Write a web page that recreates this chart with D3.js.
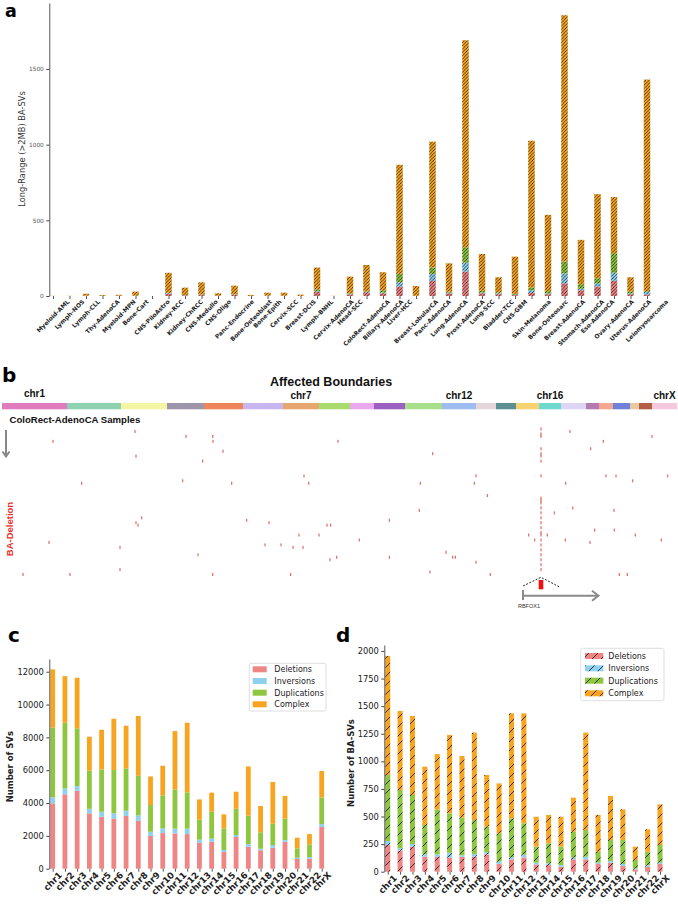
<!DOCTYPE html>
<html><head><meta charset="utf-8">
<script src="https://cdn.jsdelivr.net/npm/d3@7"></script>
<style>body{margin:0;background:#fff;}svg{display:block;}</style>
</head><body>
<svg id="fig" width="678" height="905"></svg>
<script>
// ---------------- DATA ----------------
const svTypes = ["Deletions", "Inversions", "Duplications", "Complex"];
const typeColors = ["#ef8585", "#8fd0ef", "#8ec63f", "#f7a520"];

// panel a
const cancerTypes = ["Myeloid-AML","Lymph-NOS","Lymph-CLL","Thy-AdenoCA","Myeloid-MPN","Bone-Cart","CNS-PiloAstro","Kidney-RCC","Kidney-ChRCC","CNS-Medullo","CNS-Oligo","Panc-Endocrine","Bone-Osteoblast","Bone-Epith","Cervix-SCC","Breast-DCIS","Lymph-BNHL","Cervix-AdenoCA","Head-SCC","ColoRect-AdenoCA","Biliary-AdenoCA","Liver-HCC","Breast-LobularCA","Panc-AdenoCA","Lung-AdenoCA","Prost-AdenoCA","Lung-SCC","Bladder-TCC","CNS-GBM","Skin-Melanoma","Bone-Osteosarc","Breast-AdenoCA","Stomach-AdenoCA","Eso-AdenoCA","Ovary-AdenoCA","Uterus-AdenoCA","Leiomyosarcoma"];
const aDeletions    = [0,0,2,1,1,2,0,15,4,6,2,8,1,2,2,1,28,0,10,25,18,62,1,99,18,161,18,12,6,20,12,84,38,62,101,12,10];
const aInversions   = [0,0,0,0,0,0,0,3,1,1,0,1,0,0,0,0,4,0,3,3,5,29,0,46,4,59,4,6,3,18,5,66,10,22,53,5,18];
const aDuplications = [0,0,1,0,1,1,0,3,2,3,1,3,0,1,1,0,12,0,3,4,15,55,1,44,6,102,12,6,5,18,15,77,30,33,129,12,5];
const aComplex      = [1,1,12,5,6,26,0,132,48,80,15,56,6,19,19,8,144,1,112,173,119,721,64,831,188,1368,244,100,246,970,504,1628,293,556,371,95,1397];
const aTicks = [0, 500, 1000, 1500];

// panel b
const chromosomes = ["chr1","chr2","chr3","chr4","chr5","chr6","chr7","chr8","chr9","chr10","chr11","chr12","chr13","chr14","chr15","chr16","chr17","chr18","chr19","chr20","chr21","chr22","chrX"];
const boundaryCounts = [260,216,184,148,156,160,144,124,96,124,148,136,80,80,92,88,100,52,56,68,36,52,100];
const chrColors = ["#e07bc0","#8fd2b2","#f4f6a4","#9d96aa","#ee855a","#c8b6f1","#e6a66f","#a8dc6d","#e9a9ef","#9b60c1","#a9e08c","#9ebcf0","#e6d6d9","#5d8e92","#f7d370","#6fd8cf","#dcd5f4","#b57bb1","#f5a690","#6f81d8","#e8c9a1","#b45f43","#f4c9dd"];
const labelledChrs = ["chr1","chr7","chr12","chr16","chrX"];
const delMarkPos = [532,204,736,843,844,884,536,803,1344,1208,1227,723,919,319,979,1068,559,536,544,1188,1268,1300,1315,188,472,1052,1116,1164,1204,784,1312,1339,84,272,472,843,1155,2272,2600,2405,2355,1723,1896,1889,1673,1941,2255,2416,2456,2523,2663,1669,1549,2209,2283,2448,1429,2107,2131,2181,2253,2352,2371,2449,2533,2637,1549,1776,1803,1813,1896,1712,1953,2469,2501];
const delMarkRow = [1,5,3,3,5,9,11,13,5,19,22,21,22,22,37,38,36,38,39,43,43,39,39,46,48,47,47,48,48,51,53,52,59,59,57,59,59,1,3,5,8,10,19,22,22,27,22,19,19,21,19,33,37,34,32,33,45,43,45,43,45,46,41,41,43,45,52,50,52,52,54,58,59,59,59];
const rbfox1Pos = 2156;
const rbfox1Rows = [0,2,3,8,10,11,13,19,28,29,30,32,34,36,38,40,42,43,45,47,49,51,53,55,57];

// panel c
const cDeletions    = [3980,4530,4750,3370,3170,3045,3210,2920,1990,2170,2150,2110,1580,1640,1015,1930,1340,1120,1280,1640,590,610,2540];
const cInversions   = [365,360,280,280,300,325,320,330,260,290,290,330,190,190,125,120,160,100,160,110,80,100,180];
const cDuplications = [4245,4000,3520,2320,2580,2640,2580,2410,1630,2010,2390,2210,1210,1640,1320,1600,1730,990,1300,1300,570,770,1620];
const cComplex      = [3550,2840,3080,2070,2415,3125,2600,3640,1740,1800,3550,4240,1240,1160,850,1040,3000,1610,2540,1380,650,630,1610];
const cTicks = [0,2000,4000,6000,8000,10000,12000];

// panel d
const dDeletions    = [242,190,227,136,136,127,136,136,157,70,112,130,66,60,45,112,112,70,82,51,21,45,70];
const dInversions   = [36,21,24,21,21,45,12,24,18,21,18,24,16,16,15,15,24,12,15,19,9,12,12];
const dDuplications = [598,529,444,266,408,357,344,308,233,256,353,284,145,181,167,235,242,99,190,217,76,124,160];
const dComplex      = [1079,716,716,529,501,710,556,792,468,453,952,997,271,257,271,309,882,333,399,278,121,203,368];
const dTicks = [0,250,500,750,1000,1250,1500,1750,2000];

// ---------------- DRAWING ----------------
const svg = d3.select('#fig');
const defs = svg.append('defs');
const DV = "'DejaVu Sans', sans-serif";
const LS = "'Liberation Sans', Arial, sans-serif";

function hatch(id, color, size, sw) {
  const p = defs.append('pattern').attr('id', id).attr('patternUnits', 'userSpaceOnUse')
    .attr('width', size).attr('height', size);
  p.append('rect').attr('width', size).attr('height', size).attr('fill', color);
  p.append('path')
    .attr('d', `M0,${size} L${size},0 M${-size/2},${size/2} L${size/2},${-size/2} M${size/2},${size*1.5} L${size*1.5},${size/2}`)
    .attr('stroke', '#111').attr('stroke-width', sw).attr('stroke-linecap', 'square');
}
typeColors.forEach((c, k) => { hatch('ha' + k, c, 3.3, 0.75); hatch('hd' + k, c, 9, 0.8); });

function stackedBars(g, cats, series, x, y, bw, fillFn) {
  const rows = cats.map((c, i) => { const o = { cat: c }; svTypes.forEach((t, k) => o[t] = series[k][i]); return o; });
  const layers = d3.stack().keys(svTypes)(rows);
  layers.forEach((layer, k) => {
    g.append('g').selectAll('rect').data(layer).join('rect')
      .attr('x', d => x(d.data.cat) - bw / 2).attr('width', bw)
      .attr('y', d => y(d[1])).attr('height', d => Math.max(0, y(d[0]) - y(d[1])))
      .attr('fill', fillFn(k));
  });
}

function leftAxis(g, y, ticks, x0, fs, color) {
  const ax = g.append('g').attr('transform', `translate(${x0},0)`)
    .call(d3.axisLeft(y).tickValues(ticks).tickFormat(d3.format('d')).tickSize(3).tickSizeOuter(0).tickPadding(2.5));
  ax.select('.domain').attr('stroke', '#444').attr('stroke-width', 0.9);
  ax.selectAll('.tick line').attr('stroke', '#444');
  ax.selectAll('text').attr('font-family', DV).attr('font-size', fs).attr('fill', color);
}

function bottomTicks(g, x, y0) {
  const ax = g.append('g').attr('transform', `translate(0,${y0})`)
    .call(d3.axisBottom(x).tickSize(3).tickSizeOuter(0).tickFormat(''));
  ax.select('.domain').remove();
  ax.selectAll('.tick line').attr('stroke', '#555');
}

function rotLabels(g, cats, x, y0, fs, family) {
  cats.forEach(c => {
    const t = g.append('text').text(c).attr('font-family', family).attr('font-size', fs)
      .attr('font-weight', 'bold').attr('fill', '#222');
    const L = t.node().getComputedTextLength();
    const w = (L + fs * 0.8) * Math.SQRT1_2;
    t.attr('text-anchor', 'middle').attr('dy', '0.35em')
      .attr('transform', `translate(${x(c)},${y0 + w / 2}) rotate(-45)`);
  });
}

function panelLetter(txt, x, y, fs) {
  svg.append('text').text(txt).attr('x', x).attr('y', y).attr('font-family', "'DejaVu Sans', sans-serif")
    .attr('font-weight', 'bold').attr('font-size', fs).attr('fill', '#000');
}

// ---- panel a ----
{
  const g = svg.append('g');
  const x = d3.scalePoint().domain(cancerTypes).range([53, 647]);
  const y = d3.scaleLinear().domain([0, 1936]).range([296, 3]);
  stackedBars(g, cancerTypes, [aDeletions, aInversions, aDuplications, aComplex], x, y, 6.5, k => `url(#ha${k})`);
  leftAxis(g, y, aTicks, 49.3, 5.8, '#555');
  bottomTicks(g, x, 296);
  rotLabels(g, cancerTypes, x, 299, 6, DV);
  g.append('text').text('Long-Range (>2MB) BA-SVs').attr('font-family', DV).attr('font-size', 8.3)
    .attr('fill', '#333').attr('text-anchor', 'middle')
    .attr('transform', 'translate(24.5,149) rotate(-90)');
  panelLetter('a', 5, 16.5, 17.5);
}

// ---- panel b ----
{
  const g = svg.append('g');
  const total = d3.sum(boundaryCounts);
  const x = d3.scaleLinear().domain([0, total]).range([2, 677]);
  const starts = d3.cumsum([0].concat(boundaryCounts.slice(0, -1)));
  const yRow = d3.scaleLinear().domain([0, 59]).range([429, 574.5]);
  g.selectAll('rect.chr').data(chromosomes).join('rect').attr('class', 'chr')
    .attr('x', (d, i) => x(starts[i])).attr('width', (d, i) => x(starts[i] + boundaryCounts[i]) - x(starts[i]) + 0.3)
    .attr('y', 403).attr('height', 6.3).attr('fill', (d, i) => chrColors[i]);
  labelledChrs.forEach(c => {
    const i = chromosomes.indexOf(c);
    g.append('text').text(c).attr('x', x(starts[i] + boundaryCounts[i] / 2)).attr('y', c === 'chr1' ? 396.5 : 399)
      .attr('text-anchor', 'middle').attr('font-family', LS).attr('font-weight', 'bold').attr('font-size', 10).attr('fill', '#111');
  });
  g.append('text').text('Affected Boundaries').attr('x', 331).attr('y', 386).attr('text-anchor', 'middle')
    .attr('font-family', LS).attr('font-weight', 'bold').attr('font-size', 12.5).attr('fill', '#111');
  g.append('text').text('ColoRect-AdenoCA Samples').attr('x', 9.5).attr('y', 423)
    .attr('font-family', LS).attr('font-weight', 'bold').attr('font-size', 9.6).attr('fill', '#111');
  // down arrow
  g.append('path').attr('d', 'M6,430 L6,456').attr('stroke', '#888').attr('stroke-width', 2);
  g.append('path').attr('d', 'M2.5,451.5 L6,456.5 L9.5,451.5').attr('stroke', '#888').attr('stroke-width', 2).attr('fill', 'none');
  g.append('text').text('BA-Deletion').attr('font-family', LS).attr('font-weight', 'bold').attr('font-size', 9.5)
    .attr('fill', '#e8302a').attr('text-anchor', 'middle').attr('transform', 'translate(13,529) rotate(-90)');
  // deletion marks
  g.selectAll('rect.mk').data(delMarkPos).join('rect').attr('class', 'mk')
    .attr('x', d => x(d) - 0.45).attr('y', (d, i) => yRow(delMarkRow[i]) - 1.5).attr('width', 0.9).attr('height', 3)
    .attr('fill', '#cf3a33');
  g.selectAll('rect.mk16').data(rbfox1Rows).join('rect').attr('class', 'mk16')
    .attr('x', x(rbfox1Pos) - 0.45).attr('y', d => yRow(d) - 1.5).attr('width', 0.9).attr('height', 3)
    .attr('fill', '#cf3a33');
  // RBFOX1 gene model
  const gx = x(rbfox1Pos);
  g.append('path').attr('d', `M${gx - 18},586 L${gx},577.3 L${gx + 18},586.7`).attr('fill', 'none')
    .attr('stroke', '#111').attr('stroke-width', 0.9).attr('stroke-dasharray', '2,1.5');
  g.append('rect').attr('x', gx - 2.3).attr('y', 580).attr('width', 4.6).attr('height', 9.3).attr('fill', '#ee1111');
  g.append('path').attr('d', `M${gx - 18},590 L${gx - 18},600 M${gx - 18},595.7 L${gx + 57},595.7`)
    .attr('stroke', '#8a8a8a').attr('stroke-width', 2).attr('fill', 'none');
  g.append('path').attr('d', `M${gx + 51},590.7 L${gx + 57.5},595.7 L${gx + 51},600.7`)
    .attr('stroke', '#8a8a8a').attr('stroke-width', 2).attr('fill', 'none');
  g.append('text').text('RBFOX1').attr('x', gx - 12).attr('y', 608).attr('text-anchor', 'middle')
    .attr('font-family', LS).attr('font-size', 5.5).attr('fill', '#333');
  panelLetter('b', 2, 382, 20);
}

function legend(g, x0, y0, w, h, rowY, swX, swW, txtX, fillFn) {
  g.append('rect').attr('x', x0).attr('y', y0).attr('width', w).attr('height', h).attr('rx', 2)
    .attr('fill', '#fff').attr('stroke', '#d5d5d5').attr('stroke-width', 0.8);
  svTypes.forEach((t, k) => {
    g.append('rect').attr('x', swX).attr('y', rowY[k] - 3).attr('width', swW).attr('height', 6).attr('fill', fillFn(k));
    g.append('text').text(t).attr('x', txtX).attr('y', rowY[k] + 3).attr('font-family', DV)
      .attr('font-size', 8).attr('fill', '#222');
  });
}

// ---- panel c ----
{
  const g = svg.append('g');
  const x = d3.scalePoint().domain(chromosomes).range([52.7, 321.7]);
  const y = d3.scaleLinear().domain([0, 12774]).range([868.7, 659]);
  stackedBars(g, chromosomes, [cDeletions, cInversions, cDuplications, cComplex], x, y, 4.8, k => typeColors[k]);
  leftAxis(g, y, cTicks, 49.3, 8.3, '#222');
  bottomTicks(g, x, 868.7);
  rotLabels(g, chromosomes, x, 871, 8.8, DV);
  g.append('text').text('Number of SVs').attr('font-family', DV).attr('font-size', 8.5).attr('font-weight', 'bold')
    .attr('fill', '#222').attr('text-anchor', 'middle').attr('transform', 'translate(13,766.7) rotate(-90)');
  legend(g, 249.3, 663.3, 76.7, 47.7, [669.3, 681, 692.7, 704.3], 252.7, 14, 274.3, k => typeColors[k]);
  panelLetter('c', 8, 642, 20);
}

// ---- panel d ----
{
  const g = svg.append('g');
  const x = d3.scalePoint().domain(chromosomes).range([387.7, 660]);
  const y = d3.scaleLinear().domain([0, 2054]).range([871.7, 645]);
  stackedBars(g, chromosomes, [dDeletions, dInversions, dDuplications, dComplex], x, y, 5, k => `url(#hd${k})`);
  leftAxis(g, y, dTicks, 384.3, 8.3, '#222');
  bottomTicks(g, x, 871.7);
  rotLabels(g, chromosomes, x, 874, 8.8, DV);
  g.append('text').text('Number of BA-SVs').attr('font-family', DV).attr('font-size', 8.5).attr('font-weight', 'bold')
    .attr('fill', '#222').attr('text-anchor', 'middle').attr('transform', 'translate(353.5,763) rotate(-90)');
  legend(g, 580.7, 648.3, 83.3, 52.4, [656, 668.3, 680.7, 693.3], 585, 18.3, 608.3, k => `url(#hd${k})`);
  panelLetter('d', 336, 642, 20);
}
</script>
</body></html>
